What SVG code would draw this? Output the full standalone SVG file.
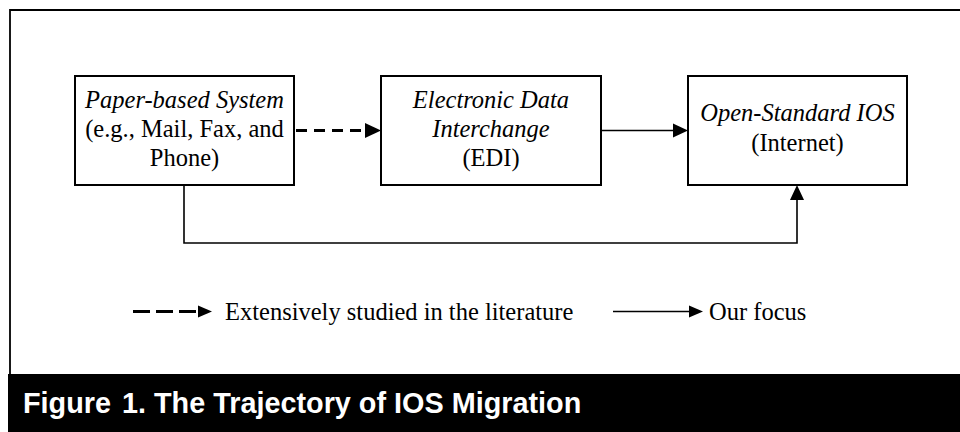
<svg xmlns="http://www.w3.org/2000/svg" width="960" height="432" viewBox="0 0 960 432">
<style>
.box{fill:#fff;stroke:#000;stroke-width:2}
.t{font-family:"Liberation Serif","Times New Roman",serif;font-size:24.5px;fill:#000;text-anchor:middle}
.i{font-style:italic}
.lg{font-family:"Liberation Serif","Times New Roman",serif;font-size:24.5px;fill:#000}
.solid{fill:none;stroke:#000;stroke-width:1.6}
.dash{fill:none;stroke:#000;stroke-width:3.2;stroke-dasharray:11 7}
.cap{font-family:"Liberation Sans",Arial,sans-serif;font-weight:bold;font-size:28.8px;fill:#fff}
</style>
<rect x="0" y="0" width="960" height="432" fill="#fff"/>
<path d="M960,10 H10 V374" fill="none" stroke="#000" stroke-width="1.8"/>
<rect x="8" y="374" width="952" height="58" fill="#000"/>
<text class="cap" x="23" y="413">Figure <tspan dx="3">1. The Trajectory of IOS Migration</tspan></text>

<g id="paper">
<rect class="box" x="75" y="76" width="219" height="109"/>
<text class="t i" x="184.5" y="108">Paper-based System</text>
<text class="t" x="184.5" y="137">(e.g., Mail, Fax, and</text>
<text class="t" x="184.5" y="166">Phone)</text>
</g>
<g id="edi">
<rect class="box" x="381" y="76" width="220" height="109"/>
<text class="t i" x="491" y="108">Electronic Data</text>
<text class="t i" x="491" y="137">Interchange</text>
<text class="t" x="491" y="166">(EDI)</text>
</g>
<g id="ios">
<rect class="box" x="688" y="76" width="219" height="109"/>
<text class="t i" x="797.5" y="121">Open-Standard IOS</text>
<text class="t" x="797.5" y="151">(Internet)</text>
</g>

<g id="connectors">
<path class="dash" d="M296,130.5 H367"/>
<path d="M381,130.5 L365,123 L365,138 Z" fill="#000"/>
<path class="solid" d="M601,130.5 H675"/>
<path d="M688,130.5 L673,123.5 L673,137.5 Z" fill="#000"/>
<path class="solid" d="M184,185 V243 H797 V197"/>
<path d="M797,185 L790,200 L804,200 Z" fill="#000"/>
</g>

<g id="legend">
<path class="dash" d="M133,311.5 H198" style="stroke-dasharray:17 6;stroke-width:3"/>
<path d="M212,311.5 L198,305.5 L198,317.5 Z" fill="#000"/>
<text class="lg" x="225" y="320">Extensively studied in the literature</text>
<path class="solid" d="M613,311.5 H695"/>
<path d="M703,311.5 L689,305.5 L689,317.5 Z" fill="#000"/>
<text class="lg" x="709" y="320">Our focus</text>
</g>
</svg>
